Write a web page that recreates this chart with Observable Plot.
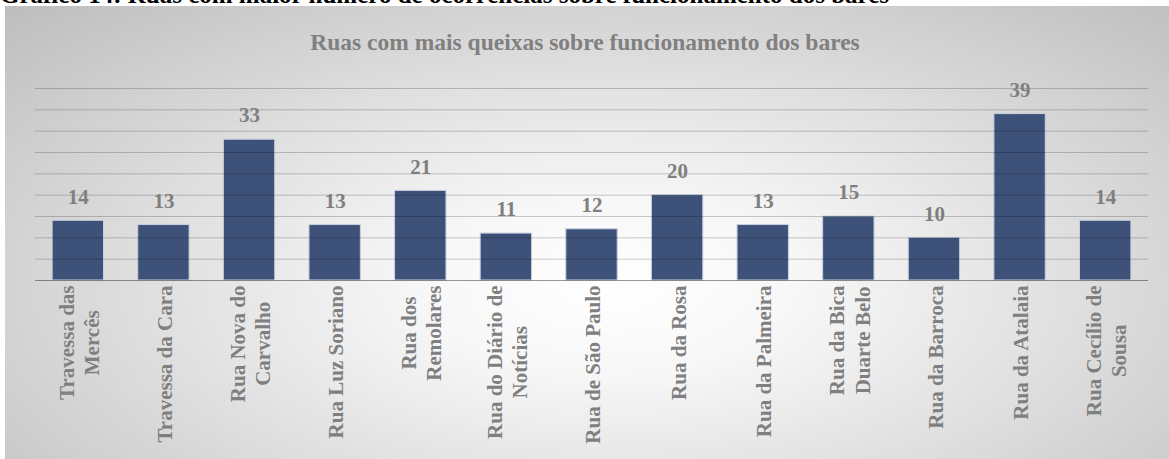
<!DOCTYPE html>
<html>
<head>
<meta charset="utf-8">
<script src="https://cdn.jsdelivr.net/npm/d3@7"></script>
<script src="https://cdn.jsdelivr.net/npm/@observablehq/plot@0.6"></script>
<style>
  html, body { margin: 0; padding: 0; background: #fff; }
  body { width: 1169px; height: 459px; position: relative; overflow: hidden; font-family: "Liberation Serif", "Times New Roman", serif; }
  #capwrap { position: absolute; left: 0; top: 0; width: 1169px; height: 6px; overflow: hidden; }
  #cap { position: absolute; left: 0; top: -18px; font: bold 25px/25px "Liberation Serif", serif; color: #000; white-space: nowrap; }
  #box { position: absolute; left: 5px; top: 6px; width: 1164px; height: 453px;
         background: radial-gradient(ellipse farthest-corner at 52% 62%, #ffffff 0%, #f7f7f7 22%, #bdbdbd 100%); }
  #title { position: absolute; left: 0; width: 1160px; top: 24px; text-align: center;
           font: bold 23.5px/24px "Liberation Serif", serif; color: #808080; white-space: nowrap; }
  #chart { position: absolute; left: 0; top: 0; }
</style>
</head>
<body>
<div id="capwrap"><div id="cap">Gráfico 14: Ruas com maior número de ocorrências sobre funcionamento dos bares</div></div>
<div id="box">
  <div id="chart"></div>
  <div id="title">Ruas com mais queixas sobre funcionamento dos bares</div>
</div>
<script>
const categories = [
  "Travessa das Mercês", "Travessa da Cara", "Rua Nova do Carvalho", "Rua Luz Soriano",
  "Rua dos Remolares", "Rua do Diário de Notícias", "Rua de São Paulo", "Rua da Rosa",
  "Rua da Palmeira", "Rua da Bica Duarte Belo", "Rua da Barroca", "Rua da Atalaia", "Rua Cecílio de Sousa"
];
const tickLabels = [
  "Travessa das\nMercês", "Travessa da Cara", "Rua Nova do\nCarvalho", "Rua Luz Soriano",
  "Rua dos\nRemolares", "Rua do Diário de\nNotícias", "Rua de São Paulo", "Rua da Rosa",
  "Rua da Palmeira", "Rua da Bica\nDuarte Belo", "Rua da Barroca", "Rua da Atalaia", "Rua Cecílio de\nSousa"
];
const values = [14, 13, 33, 13, 21, 11, 12, 20, 13, 15, 10, 39, 14];
const gridValues = [5, 10, 15, 20, 25, 30, 35, 40, 45];

const data = categories.map((c, i) => ({street: c, label: tickLabels[i], value: values[i]}));

const plot = Plot.plot({
  width: 1160,
  height: 453,
  marginLeft: 30,
  marginRight: 17,
  marginTop: 82,
  marginBottom: 179,
  style: {background: "transparent", fontFamily: "'Liberation Serif', serif", overflow: "visible"},
  x: {type: "band", domain: categories, paddingInner: 0.4, paddingOuter: 0.2, round: false, axis: null},
  y: {domain: [0, 45], axis: null},
  marks: [
    Plot.barY(data, {x: "street", y: "value", fill: "#3d5179", stroke: "#c9d1de", strokeWidth: 1}),
    Plot.ruleY(gridValues, {stroke: "#000", strokeOpacity: 0.2, strokeWidth: 1}),
    Plot.ruleY([0], {stroke: "#000", strokeOpacity: 0.4, strokeWidth: 1}),
    Plot.text(data, {x: "street", y: "value", text: d => String(d.value), dy: -24, lineAnchor: "middle",
      fill: "#7f7f7f", fontSize: 21, fontWeight: "bold"}),
    Plot.text(data, {x: "street", text: "label", frameAnchor: "bottom", dy: 5, rotate: -90,
      textAnchor: "end", lineAnchor: "middle", lineHeight: 1.2,
      fill: "#7f7f7f", fontSize: 21, fontWeight: "bold", className: "xlab"})
  ]
});
document.getElementById("chart").appendChild(plot);

// center the lines of each multi-line rotated label within its block
plot.querySelectorAll("g.xlab text").forEach(t => {
  const spans = t.querySelectorAll("tspan");
  if (spans.length < 2) return;
  let L = 0;
  spans.forEach(s => { L = Math.max(L, s.getComputedTextLength()); });
  t.setAttribute("text-anchor", "middle");
  spans.forEach(s => s.setAttribute("x", -L / 2));
});
</script>
</body>
</html>
